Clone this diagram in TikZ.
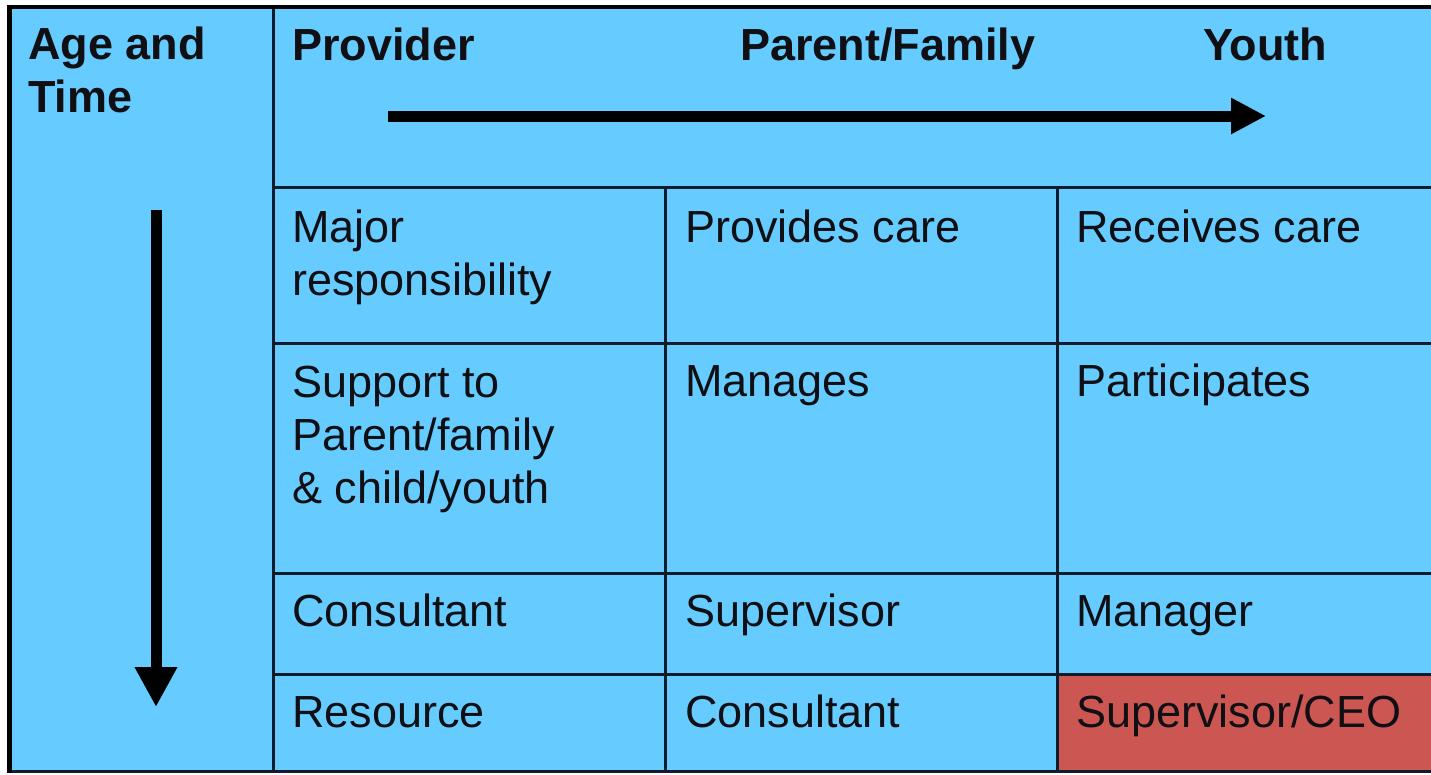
\documentclass[tikz,border=0pt]{standalone}
\usepackage{fontspec}
\setmainfont{Liberation Sans}
\usetikzlibrary{arrows.meta}
\definecolor{cellblue}{RGB}{102,204,255}
\definecolor{cellred}{RGB}{204,86,82}
\definecolor{gridline}{RGB}{16,28,44}
\definecolor{txt}{RGB}{15,15,20}
\tikzset{
  celltext/.style={anchor=base west, inner sep=0pt, align=left, text=txt,
    font=\fontsize{45}{53}\selectfont},
  headtext/.style={celltext, font=\fontsize{45}{53}\selectfont\bfseries},
  gridrule/.style={draw=gridline, line width=3pt},
  bigarrow/.style={draw=black, line width=11pt},
  hhead/.style={-{Triangle[width=34pt,length=35pt]}},
  vhead/.style={-{Triangle[width=40pt,length=40pt]}},
}
\begin{document}
\begin{tikzpicture}[x=1pt,y=-1pt]
\useasboundingbox (0,0) rectangle (1431,774);
% background
\fill[white] (0,0) rectangle (1431,774);
\fill[cellblue] (9,7) rectangle (1431,772);
\fill[cellred] (1057,674) rectangle (1431,771);
% grid
\draw[gridrule] (273,7) -- (273,771);
\draw[gridrule] (273,187) -- (1431,187);
\draw[gridrule] (665,187) -- (665,771);
\draw[gridrule] (1057,187) -- (1057,771);
\draw[gridrule] (273,343) -- (1431,343);
\draw[gridrule] (273,573) -- (1431,573);
\draw[gridrule] (273,674) -- (1431,674);
\draw[gridrule] (9,771.5) -- (1431,771.5);
% outer frame
\draw[black, line width=4pt] (9,7) -- (1431,7);
\draw[black, line width=5pt] (9.5,5) -- (9.5,773);
% headers (base anchor = baseline of last line)
\node[headtext] (age) at (28,112) {Age and\\Time};
\node[headtext] (prov) at (292,60) {Provider};
\node[headtext] (par) at (740,60) {Parent/Family};
\node[headtext] (youth) at (1203,60) {Youth};
% arrows
\coordinate (hs) at (388,116);
\coordinate (he) at (1266,116);
\coordinate (vs) at (156,210);
\coordinate (ve) at (156,707);
\draw[bigarrow, hhead] (hs) -- (he);
\draw[bigarrow, vhead] (vs) -- (ve);
% cells
\node[celltext] (c11) at (292,295) {Major\\responsibility};
\node[celltext] (c12) at (685,242) {Provides care};
\node[celltext] (c13) at (1076,242) {Receives care};
\node[celltext] (c21) at (292,503) {Support to\\Parent/family\\\& child/youth};
\node[celltext] (c22) at (685,396) {Manages};
\node[celltext] (c23) at (1076,396) {Participates};
\node[celltext] (c31) at (292,626) {Consultant};
\node[celltext] (c32) at (685,626) {Supervisor};
\node[celltext] (c33) at (1076,626) {Manager};
\node[celltext] (c41) at (292,727) {Resource};
\node[celltext] (c42) at (685,727) {Consultant};
\node[celltext] (c43) at (1076,727) {Supervisor/CEO};
\end{tikzpicture}
\end{document}
